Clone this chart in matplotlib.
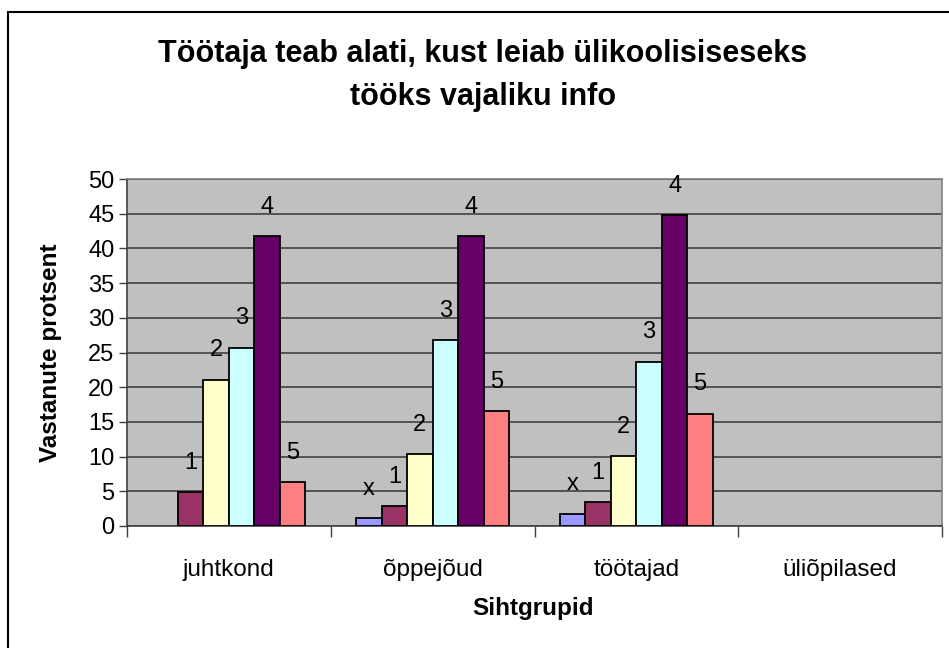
import matplotlib
matplotlib.use("Agg")
import matplotlib.pyplot as plt
from matplotlib.patches import Rectangle
import numpy as np

categories = ["juhtkond", "õppejõud", "töötajad", "üliõpilased"]
series_names = ["x", "1", "2", "3", "4", "5"]
values_x = [0.0, 1.2, 1.8, 0.0]
values_1 = [4.9, 2.9, 3.5, 0.0]
values_2 = [21.1, 10.4, 10.1, 0.0]
values_3 = [25.7, 26.8, 23.7, 0.0]
values_4 = [41.8, 41.8, 44.8, 0.0]
values_5 = [6.3, 16.5, 16.2, 0.0]
series_values = [values_x, values_1, values_2, values_3, values_4, values_5]
colors = ["#9999FF", "#993366", "#FFFFCC", "#CCFFFF", "#660066", "#FF8080"]

plt.rcParams['font.family'] = ['Liberation Sans', 'DejaVu Sans']

W, H = 949, 648
fig = plt.figure(figsize=(W / 100, H / 100), dpi=100)

def fx(px):
    return px / W

def fy(py):
    return 1 - py / H

left, right, top, bottom = 127, 942, 179, 526
ax = fig.add_axes([fx(left), fy(bottom), fx(right) - fx(left), fy(top) - fy(bottom)])
ax.set_facecolor("#C0C0C0")

n = len(series_names)
w = 1.0 / 8
xpos = np.arange(len(categories))
for i, (name, vals, c) in enumerate(zip(series_names, series_values, colors)):
    offs = (i - (n - 1) / 2) * w
    lws = [1.3 if v > 0 else 0 for v in vals]
    ax.bar(xpos + offs, vals, width=w, color=c, edgecolor="black", linewidth=lws, zorder=3)
    for xx, v in zip(xpos + offs, vals):
        if v > 0:
            ax.annotate(name, (xx, v), xytext=(0, 21), textcoords="offset points",
                        ha="center", va="center", fontsize=17, annotation_clip=False)

ax.set_xlim(-0.5, len(categories) - 0.5)
ax.set_ylim(0, 50)
ax.set_yticks(np.arange(0, 51, 5))
ax.yaxis.grid(True, color="#404040", linewidth=1.2, zorder=1)
ax.set_axisbelow(True)
ax.tick_params(axis="y", labelsize=17, length=6, width=1, color="#404040", pad=3)
ax.set_xticks(np.arange(-0.5, len(categories), 1.0))
ax.set_xticklabels([])
ax.tick_params(axis="x", length=8, width=1, color="#404040")
ax.set_xticks(xpos, minor=True)
ax.set_xticklabels(categories, minor=True)
ax.tick_params(axis="x", which="minor", length=0, labelsize=17.5, pad=24)

for s in ["top", "right"]:
    ax.spines[s].set_color("#808080")
    ax.spines[s].set_linewidth(1.2)
for s in ["left", "bottom"]:
    ax.spines[s].set_color("#404040")
    ax.spines[s].set_linewidth(1.2)

fig.text(fx(483), fy(54), "Töötaja teab alati, kust leiab ülikoolisiseseks",
         ha="center", va="center", fontsize=22, fontweight="bold")
fig.text(fx(483), fy(97), "tööks vajaliku info",
         ha="center", va="center", fontsize=22, fontweight="bold")
fig.text(fx(51), fy(353), "Vastanute protsent", rotation=90,
         ha="center", va="center", fontsize=17.5, fontweight="bold")
fig.text(fx(533), fy(609), "Sihtgrupid",
         ha="center", va="center", fontsize=17.5, fontweight="bold")

fig.patches.append(Rectangle((fx(7.5), fy(700)), fx(1000), fy(12) - fy(700),
                             transform=fig.transFigure, fill=False,
                             edgecolor="#000000", linewidth=1.5))

fig.savefig("out.png", dpi=100)
